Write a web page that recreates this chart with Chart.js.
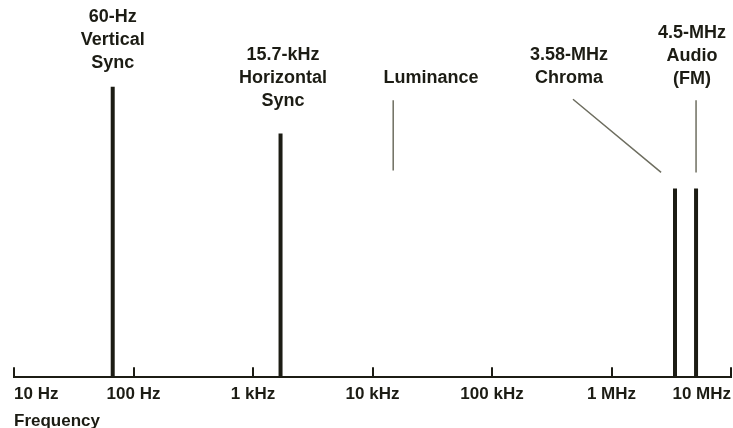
<!DOCTYPE html>
<html>
<head>
<meta charset="utf-8">
<script src="https://cdn.jsdelivr.net/npm/chart.js@4/dist/chart.umd.min.js"></script>
<style>
  html, body { margin: 0; padding: 0; background: #fff; }
  #wrap { width: 733px; height: 428px; }
</style>
</head>
<body>
<div id="wrap"><canvas id="espectro"></canvas></div>
<script>
// eje de frecuencia (Hz)
const tickValues = [10, 100, 1e3, 1e4, 1e5, 1e6, 1e7];
const tickLabels = ["10 Hz", "100 Hz", "1 kHz", "10 kHz", "100 kHz", "1 MHz", "10 MHz"];

// componentes espectrales: posicion (Hz) y altura relativa
const spikeFreqs = [67, 1700, 3.4e6, 5.1e6];
const spikeHeights = [77, 64.6, 50, 50];

// lineas indicadoras [x1, y1, x2, y2]
const pointerLines = [
    [14900, 73.4, 14900, 54.8],
    [476000, 73.7, 2.6e6, 54.3],
    [5.1e6, 73.4, 5.1e6, 54.3]
];

// textos: posicion central (Hz), altura de la primera linea, lineas
const textFreqs = [67, 1780, 30900, 440000, 4.72e6];
const textTops = [95.5, 85.4, 79.3, 85.4, 91.2];
const textLines = [
    ["60-Hz", "Vertical", "Sync"],
    ["15.7-kHz", "Horizontal", "Sync"],
    ["Luminance"],
    ["3.58-MHz", "Chroma"],
    ["4.5-MHz", "Audio", "(FM)"]
];

const tinta = "#1c1c14";
const gris = "#6e6e60";

function segmentos(pares) {
    const datos = [];
    pares.forEach(p => {
        datos.push({ x: p[0], y: p[1] });
        datos.push({ x: p[2], y: p[3] });
        datos.push({ x: p[2], y: null });
    });
    return datos;
}

const spikeData = segmentos(spikeFreqs.map((f, i) => [f, 0, f, spikeHeights[i]]));
const pointerData = segmentos(pointerLines);

// marcas del eje hacia arriba y textos
const extras = {
    id: "extras",
    afterDraw(chart) {
        const ctx = chart.ctx;
        const x = chart.scales.x;
        const y = chart.scales.y;
        const base = chart.chartArea.bottom;

        ctx.save();
        ctx.strokeStyle = tinta;
        ctx.lineWidth = 2;
        tickValues.forEach(v => {
            const px = Math.round(x.getPixelForValue(v));
            ctx.beginPath();
            ctx.moveTo(px, base);
            ctx.lineTo(px, base - 10);
            ctx.stroke();
        });

        ctx.fillStyle = tinta;
        ctx.font = "bold 18px 'Liberation Sans', Arial, sans-serif";
        ctx.textAlign = "center";
        ctx.textBaseline = "middle";
        textLines.forEach((lineas, i) => {
            const px = x.getPixelForValue(textFreqs[i]);
            const py = y.getPixelForValue(textTops[i]);
            lineas.forEach((t, j) => ctx.fillText(t, px, py + j * 23));
        });
        ctx.restore();
    }
};

new Chart(document.getElementById("espectro"), {
    type: "line",
    data: {
        datasets: [
            {
                data: spikeData,
                borderColor: tinta,
                borderWidth: 4,
                borderCapStyle: "butt",
                pointRadius: 0,
                spanGaps: false
            },
            {
                data: pointerData,
                borderColor: gris,
                borderWidth: 1.5,
                pointRadius: 0,
                spanGaps: false
            }
        ]
    },
    options: {
        responsive: true,
        maintainAspectRatio: false,
        animation: false,
        events: [],
        layout: { padding: { left: 14, right: 0, top: 0, bottom: -4 } },
        plugins: {
            legend: { display: false },
            tooltip: { enabled: false }
        },
        scales: {
            x: {
                type: "logarithmic",
                min: 10,
                max: 1e7,
                afterBuildTicks: s => { s.ticks = tickValues.map(v => ({ value: v })); },
                afterFit: s => { s.paddingRight = 2; },
                grid: { display: true, drawOnChartArea: false, drawTicks: false },
                border: { display: true, color: tinta, width: 2 },
                ticks: {
                    autoSkip: false,
                    maxRotation: 0,
                    align: "inner",
                    padding: 7,
                    color: tinta,
                    font: { family: "'Liberation Sans', Arial, sans-serif", size: 17, weight: "bold" },
                    callback: (v) => tickLabels[tickValues.indexOf(v)]
                },
                title: {
                    display: true,
                    text: "Frequency",
                    align: "start",
                    color: tinta,
                    padding: { top: 0, bottom: 0 },
                    font: { family: "'Liberation Sans', Arial, sans-serif", size: 17, weight: "bold" }
                }
            },
            y: {
                display: false,
                min: 0,
                max: 100
            }
        }
    },
    plugins: [extras]
});
</script>
</body>
</html>
